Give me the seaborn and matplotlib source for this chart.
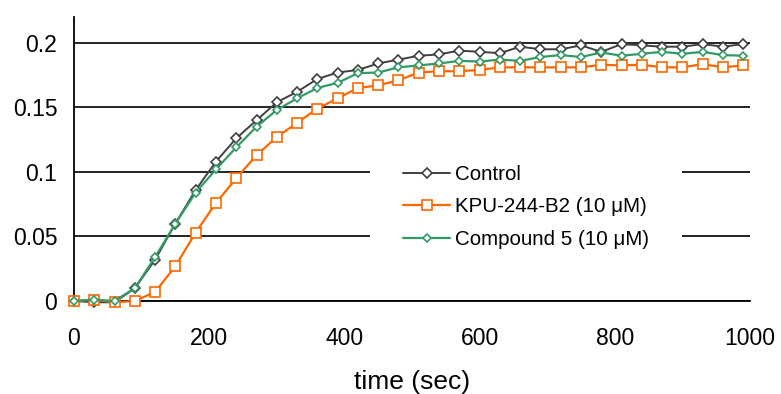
import matplotlib
matplotlib.use("Agg")
import matplotlib.pyplot as plt
import seaborn as sns
import pandas as pd

# time points (sec)
time_sec = list(range(0, 1000, 30))

control = [0.000, -0.001, -0.001, 0.010, 0.032, 0.060, 0.086, 0.108, 0.126, 0.140,
           0.154, 0.162, 0.172, 0.177, 0.179, 0.184, 0.187, 0.190, 0.191, 0.194,
           0.193, 0.192, 0.197, 0.195, 0.195, 0.198, 0.193, 0.199, 0.198, 0.197,
           0.197, 0.199, 0.197, 0.199]
kpu = [0.000, 0.001, -0.001, 0.000, 0.007, 0.027, 0.053, 0.076, 0.095, 0.113,
       0.127, 0.138, 0.149, 0.157, 0.165, 0.167, 0.171, 0.177, 0.178, 0.178,
       0.179, 0.181, 0.181, 0.181, 0.181, 0.181, 0.183, 0.1825, 0.183, 0.181,
       0.181, 0.1835, 0.181, 0.1825]
compound5 = [0.000, 0.001, 0.000, 0.010, 0.034, 0.060, 0.084, 0.102, 0.119, 0.135,
             0.148, 0.157, 0.165, 0.169, 0.1765, 0.177, 0.181, 0.1825, 0.184, 0.186,
             0.1855, 0.187, 0.186, 0.189, 0.1905, 0.189, 0.1925, 0.190, 0.1915, 0.193,
             0.1915, 0.193, 0.1905, 0.190]

labels = ["Control", "KPU-244-B2 (10 \u03bcM)", "Compound 5 (10 \u03bcM)"]
colors = ["#404040", "#FF6600", "#339966"]

df = pd.DataFrame({"time": time_sec, labels[0]: control, labels[1]: kpu, labels[2]: compound5})

sns.set_style("white")
plt.rcParams["font.family"] = ["Liberation Sans", "DejaVu Sans"]
plt.rcParams["text.color"] = "black"
plt.rcParams["axes.labelcolor"] = "black"
plt.rcParams["xtick.color"] = "black"
plt.rcParams["ytick.color"] = "black"

fig = plt.figure(figsize=(7.81, 3.94), dpi=100)
ax = fig.add_axes([74 / 781, 1 - 301 / 394, 676 / 781, 284 / 394])

# --- series ---
styles = [
    dict(marker="D", markersize=4.6, linewidth=1.4),
    dict(marker="s", markersize=6.6, linewidth=1.6),
    dict(marker="D", markersize=4.4, linewidth=1.6),
]
for lab, col, st in zip(labels, colors, styles):
    sns.lineplot(data=df, x="time", y=lab, ax=ax, color=col, label=lab,
                 markerfacecolor="white", markeredgecolor=col, markeredgewidth=1.2,
                 clip_on=False, zorder=3, **st)

# --- axes ---
ax.set_xlim(0, 1000)
ax.set_ylim(0, 0.22)
ax.set_xticks([0, 200, 400, 600, 800, 1000])
ax.set_yticks([0, 0.05, 0.1, 0.15, 0.2])
ax.set_yticklabels(["0", "0.05", "0.1", "0.15", "0.2"])
ax.yaxis.grid(True, color="black", linewidth=1.2)
ax.set_axisbelow(True)
for side in ["top", "right"]:
    ax.spines[side].set_visible(False)
for side in ["left", "bottom"]:
    ax.spines[side].set_color("black")
    ax.spines[side].set_linewidth(1.3)
ax.tick_params(axis="x", direction="in", length=5, width=1.2, color="black",
               labelsize=16.5, pad=19, labelcolor="black")
ax.tick_params(axis="y", direction="in", length=0, labelsize=16.5, pad=12,
               labelcolor="black")
ax.set_xlabel("time (sec)", fontsize=19, labelpad=14, color="black")
ax.set_ylabel("")

leg = ax.legend(loc="upper left", bbox_to_anchor=(370 / 781, 1 - 132 / 394),
                bbox_transform=fig.transFigure, fontsize=14.8, frameon=True,
                facecolor="white", edgecolor="none", framealpha=1, fancybox=False,
                handlelength=2.3, handletextpad=0.25, borderpad=1.6,
                borderaxespad=0, labelspacing=0.66)
leg.get_frame().set_linewidth(0)
leg.set_zorder(5)
for t in leg.get_texts():
    t.set_color("black")

fig.savefig("out.png", dpi=100)
